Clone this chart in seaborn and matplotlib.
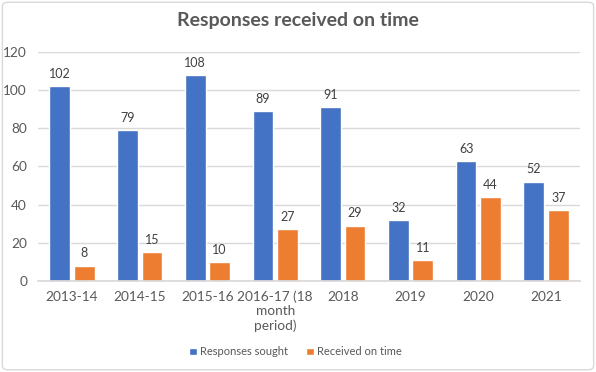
import pandas as pd
import numpy as np
import seaborn as sns
import matplotlib.pyplot as plt
from matplotlib.patches import FancyBboxPatch

# chart values
periods = ['2013-14', '2014-15', '2015-16', '2016-17 (18\nmonth\nperiod)',
           '2018', '2019', '2020', '2021']
sought = [102, 79, 108, 89, 91, 32, 63, 52]
on_time = [8, 15, 10, 27, 29, 11, 44, 37]
series = ['Responses sought', 'Received on time']

df = pd.DataFrame({'period': periods * 2,
                   'value': sought + on_time,
                   'series': [series[0]] * len(periods) + [series[1]] * len(periods)})

sns.set_theme(style='white')
plt.rcParams['font.family'] = ['Lato', 'DejaVu Sans']

grey = '#595959'
fig = plt.figure(figsize=(5.96, 3.72), dpi=100)
ax = fig.add_axes([0.064, 0.245, 0.909, 0.615])

sns.barplot(data=df, x='period', y='value', hue='series', ax=ax,
            palette=['#4472C4', '#ED7D31'], width=0.72, gap=0.15,
            saturation=1, legend=True)

for c in ax.containers:
    ax.bar_label(c, padding=4.5, fontsize=9, color='#404040')

ax.set_ylim(0, 120)
ax.set_yticks(range(0, 121, 20))
ax.yaxis.grid(True, color='#D9D9D9', linewidth=1)
ax.set_axisbelow(True)
for s in ['top', 'right', 'left']:
    ax.spines[s].set_visible(False)
ax.spines['bottom'].set_color('#D9D9D9')
ax.set_xlabel('')
ax.set_ylabel('')
ax.tick_params(axis='both', length=0, labelsize=9.8, colors=grey, pad=7)
ax.tick_params(axis='y', pad=8)
for t in ax.get_xticklabels():
    t.set_linespacing(1.2)
    t.set_verticalalignment('top')

ax.legend(loc='center', bbox_to_anchor=(0.475, -0.31), ncol=2, frameon=False,
          fontsize=8, handlelength=0.7, handleheight=0.7, handletextpad=0.3,
          columnspacing=1.6, labelcolor=grey)

fig.text(0.5, 0.945, 'Responses received on time', ha='center', va='center',
         fontsize=14, fontweight='bold', color=grey)

fig.patches.append(FancyBboxPatch((0.004, 0.006), 0.992, 0.988,
                                  boxstyle='round,pad=0,rounding_size=0.01',
                                  transform=fig.transFigure, fill=False,
                                  edgecolor='#D9D9D9', linewidth=1))

fig.savefig('out.png', dpi=100)
